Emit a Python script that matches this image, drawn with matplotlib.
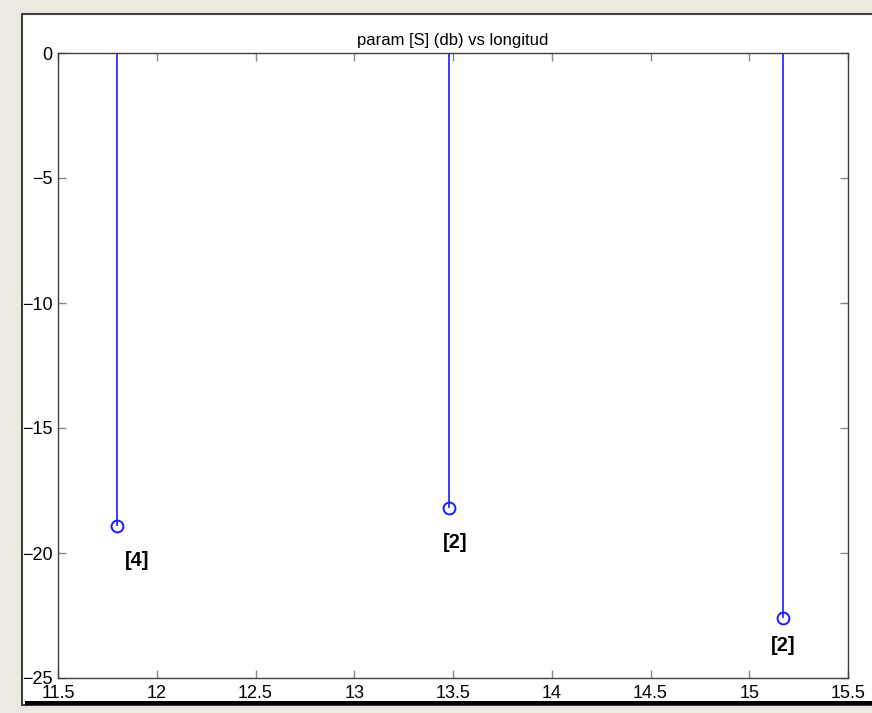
import matplotlib.pyplot as plt
from matplotlib.patches import Rectangle

# datos
longitud = [11.80, 13.48, 15.17]
param_db = [-18.9, -18.2, -22.6]
etiquetas = ['[4]', '[2]', '[2]']
etiq_x = [11.90, 13.51, 15.17]
etiq_y = [-20.3, -19.6, -23.7]
xticks = [11.5, 12, 12.5, 13, 13.5, 14, 14.5, 15, 15.5]
yticks = [0, -5, -10, -15, -20, -25]

plt.rcParams['font.family'] = ['Liberation Sans', 'DejaVu Sans']

fig = plt.figure(figsize=(8.72, 7.13), dpi=100, facecolor='#ece9e2')

# marco de la ventana
fig.patches.append(Rectangle((22/872, 8/713), 1, 691/713, transform=fig.transFigure,
                             facecolor='white', edgecolor='#404040', lw=1.5, zorder=-10))
fig.patches.append(Rectangle((25/872, 8/713), 1, 4/713, transform=fig.transFigure,
                             facecolor='black', edgecolor='none', zorder=-9))

ax = fig.add_axes([58/872, 35/713, 790/872, 625/713], zorder=5)
ml, sl, bl = ax.stem(longitud, param_db, bottom=0, linefmt='-', markerfmt='o', basefmt=' ')
plt.setp(sl, color='#1a1aff', lw=1.2)
plt.setp(ml, markerfacecolor='none', markeredgecolor='#1a1aff', markersize=8.5, mew=1.4)

for x, y, t in zip(etiq_x, etiq_y, etiquetas):
    ax.text(x, y, t, ha='center', va='center', fontsize=14.5, fontweight='bold')

ax.set_xlim(11.5, 15.5)
ax.set_ylim(-25, 0)
ax.set_xticks(xticks)
ax.set_xticklabels(['11.5', '12', '12.5', '13', '13.5', '14', '14.5', '15', '15.5'])
ax.set_yticks(yticks)
ax.tick_params(direction='in', length=6, width=1, color='#888888', top=True, right=True,
               labelsize=13)
ax.tick_params(axis='x', pad=5)
ax.tick_params(axis='y', pad=4)
for s in ax.spines.values():
    s.set_color('#404040')
    s.set_linewidth(1)
ax.set_title('param [S] (db) vs longitud', fontsize=12, pad=6)

fig.savefig('out.png', dpi=100, facecolor=fig.get_facecolor())
